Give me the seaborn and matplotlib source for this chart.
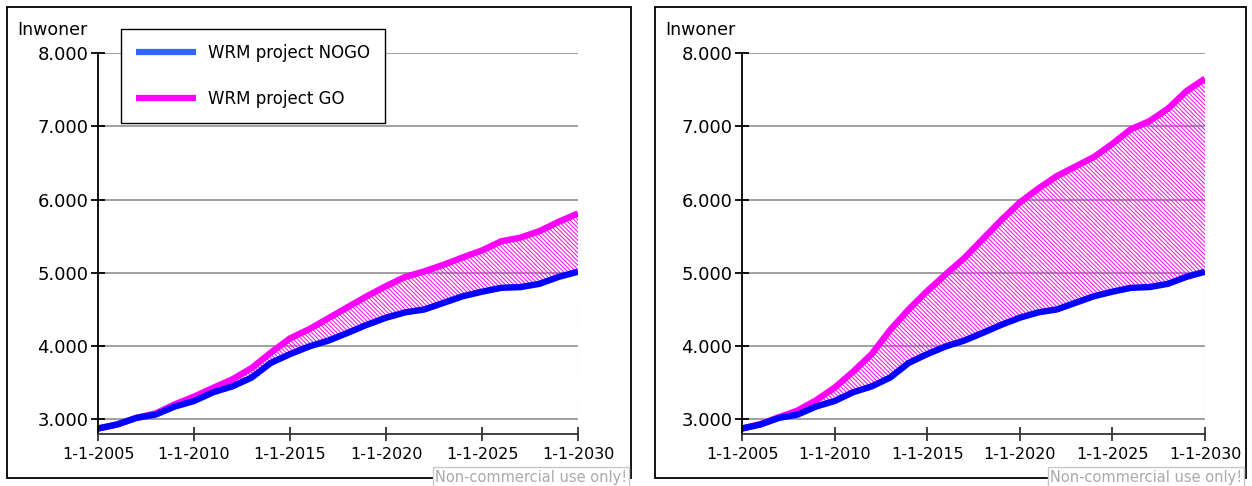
"""Inwoners: WRM project NOGO vs GO, twee scenario's naast elkaar."""

import numpy as np
import matplotlib
matplotlib.use("Agg")
import matplotlib.pyplot as plt
from matplotlib.lines import Line2D
from matplotlib.patches import Rectangle
from matplotlib.ticker import FuncFormatter
import seaborn as sns

# --- data ---
years = np.arange(2005, 2031)
nogo = [2875, 2930, 3020, 3065, 3175, 3250, 3370, 3450, 3570, 3770,
        3890, 3995, 4075, 4180, 4290, 4387, 4460, 4500, 4590, 4680,
        4742, 4795, 4805, 4850, 4945, 5015]
go_left = [2875, 2930, 3020, 3080, 3205, 3310, 3430, 3546, 3700, 3910,
           4105, 4230, 4380, 4530, 4680, 4818, 4945, 5020, 5110, 5210,
           5306, 5430, 5480, 5570, 5697, 5810]
go_right = [2875, 2935, 3030, 3120, 3260, 3432, 3650, 3890, 4220, 4500,
            4750, 4980, 5200, 5460, 5720, 5960, 6150, 6320, 6450, 6580,
            6760, 6960, 7070, 7240, 7480, 7650]
tick_years = [2005, 2010, 2015, 2020, 2025, 2030]
tick_labels = [f"1-1-{y}" for y in tick_years]
y_ticks = [3000, 4000, 5000, 6000, 7000, 8000]
series_names = ["WRM project NOGO", "WRM project GO"]

W, H = 1252, 486
BLUE = "#0000ff"
BLUE_LEGEND = "#3366ff"
MAGENTA = "#ff00ff"

sns.set_theme(style="white")
plt.rcParams["font.family"] = ["DejaVu Sans"]
plt.rcParams["text.color"] = "black"
plt.rcParams["xtick.labelcolor"] = "black"
plt.rcParams["ytick.labelcolor"] = "black"
plt.rcParams["hatch.linewidth"] = 0.7
plt.rcParams["lines.solid_capstyle"] = "butt"

fig = plt.figure(figsize=(W / 100, H / 100), dpi=100)

thousands = FuncFormatter(lambda v, _: f"{int(v):,}".replace(",", "."))


def draw_panel(rect, go, frame, with_legend=False):
    ax = fig.add_axes(rect)
    ax.fill_between(years, nogo, go, facecolor="none", edgecolor=MAGENTA,
                    hatch="\\" * 8, linewidth=0)
    ax.plot([years[-1], years[-1]], [2800, nogo[-1]], ls=":", color="#ffb0ff", lw=1)
    sns.lineplot(x=years, y=go, ax=ax, color=MAGENTA, linewidth=4.6, legend=False)
    sns.lineplot(x=years, y=nogo, ax=ax, color=BLUE, linewidth=4.6, legend=False)

    ax.set_xlim(2005, 2030)
    ax.set_ylim(2800, 8000)
    ax.set_xticks(tick_years)
    ax.set_xticklabels(tick_labels)
    ax.set_yticks(y_ticks)
    ax.yaxis.set_major_formatter(thousands)
    ax.set_xlabel("")
    ax.set_ylabel("")

    ax.yaxis.grid(True, color="#999999", linewidth=1.3)
    ax.xaxis.grid(False)
    ax.set_axisbelow(True)
    for side in ("top", "right"):
        ax.spines[side].set_visible(False)
    ax.spines["left"].set_color("black")
    ax.spines["bottom"].set_color("#333333")
    ax.spines["left"].set_linewidth(1.3)
    ax.spines["bottom"].set_linewidth(1.3)
    ax.tick_params(axis="y", direction="inout", length=10, width=1.3,
                   labelsize=13, pad=2, color="black", left=True)
    ax.tick_params(axis="x", direction="inout", length=10, width=1.3,
                   labelsize=11.5, pad=4, color="#333333", bottom=True)

    # kader rond het paneel
    x0, y0, x1, y1 = frame
    fig.add_artist(Rectangle((x0 / W, 1 - y1 / H), (x1 - x0) / W, (y1 - y0) / H,
                             transform=fig.transFigure, fill=False,
                             edgecolor="black", lw=1.3))
    fig.text((x0 + 10) / W, 1 - 35 / H, "Inwoner", fontsize=12.5,
             ha="left", va="baseline")
    fig.text((x1 - 100) / W, 1 - 477 / H, "Non-commercial use only!",
             fontsize=10.5, color="#aaaaaa", ha="center", va="center",
             bbox=dict(facecolor="white", edgecolor="#c8c8c8",
                       boxstyle="square,pad=0.15", lw=1))

    if with_legend:
        handles = [Line2D([], [], color=BLUE_LEGEND, lw=4.5),
                   Line2D([], [], color=MAGENTA, lw=4.5)]
        leg = ax.legend(handles, series_names, loc="upper left",
                        bbox_to_anchor=(121 / W, 1 - 29 / H),
                        bbox_transform=fig.transFigure, borderaxespad=0,
                        fontsize=12, handlelength=3.6, labelspacing=1.7,
                        borderpad=0.9, handletextpad=0.7, fancybox=False,
                        frameon=True, framealpha=1)
        leg.get_frame().set_edgecolor("black")
        leg.get_frame().set_linewidth(1)
    return ax


draw_panel([98 / W, 1 - 434 / H, 480 / W, 381 / H], go_left,
           (7, 7, 631, 478), with_legend=True)
draw_panel([742 / W, 1 - 434 / H, 463 / W, 381 / H], go_right,
           (655, 7, 1246, 478))

fig.savefig("out.png", dpi=100)
